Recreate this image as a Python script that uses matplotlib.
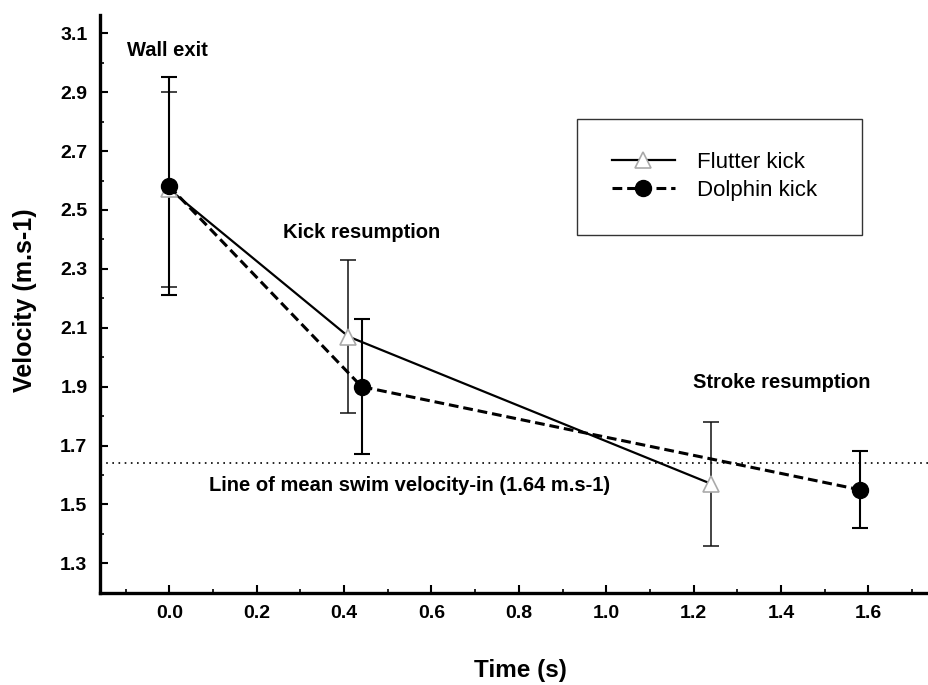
import matplotlib.pyplot as plt
from matplotlib.patches import Rectangle
from matplotlib.ticker import MultipleLocator

plt.rcParams['font.family'] = ['Liberation Sans', 'DejaVu Sans']

# mean velocity (m/s) and SD at wall exit, kick resumption, stroke resumption
flutter_time = [0.0, 0.41, 1.24]
flutter_vel = [2.57, 2.07, 1.57]
flutter_sd = [0.33, 0.26, 0.21]

dolphin_time = [0.0, 0.44, 1.58]
dolphin_vel = [2.58, 1.90, 1.55]
dolphin_sd = [0.37, 0.23, 0.13]

mean_swim_vel = 1.64

x_ticks = [0.0, 0.2, 0.4, 0.6, 0.8, 1.0, 1.2, 1.4, 1.6]
x_tick_labels = ['0.0', '0.2', '0.4', '0.6', '0.8', '1.0', '1.2', '1.4', '1.6']
y_ticks = [1.3, 1.5, 1.7, 1.9, 2.1, 2.3, 2.5, 2.7, 2.9, 3.1]
y_tick_labels = ['1.3', '1.5', '1.7', '1.9', '2.1', '2.3', '2.5', '2.7', '2.9', '3.1']

fig = plt.figure(figsize=(9.29, 6.85), dpi=100)
ax = fig.add_axes([0.1076, 0.1347, 0.8924, 0.8433])

# flutter kick
ax.errorbar(flutter_time, flutter_vel, yerr=flutter_sd, fmt='none', ecolor='#111111',
            elinewidth=1.1, capsize=6, capthick=1.1, zorder=2)
ax.plot(flutter_time, flutter_vel, '-', color='black', lw=1.6, marker='^', ms=11,
        mfc='white', mec='#aaaaaa', mew=1.2, zorder=3, label='Flutter kick')

# dolphin kick
ax.errorbar(dolphin_time, dolphin_vel, yerr=dolphin_sd, fmt='none', ecolor='black',
            elinewidth=1.5, capsize=6, capthick=1.5, zorder=2)
ax.plot(dolphin_time, dolphin_vel, '--', dashes=(3.2, 1.6), color='black', lw=2.2,
        marker='o', ms=11.5, mfc='black', mec='black', zorder=4, label='Dolphin kick')

ax.axhline(mean_swim_vel, color='black', lw=1.2, linestyle=(0, (1, 2.7)), zorder=1)

ax.set_xlim(-0.159, 1.739)
ax.set_ylim(1.2, 3.162)
ax.set_xticks(x_ticks, x_tick_labels, fontsize=14, fontweight='bold')
ax.set_yticks(y_ticks, y_tick_labels, fontsize=14, fontweight='bold')
ax.xaxis.set_minor_locator(MultipleLocator(0.1))
ax.yaxis.set_minor_locator(MultipleLocator(0.1))
ax.tick_params(which='major', direction='in', length=6, width=1.5, pad=9)
ax.tick_params(which='minor', direction='in', length=3, width=1.2)

for side in ['top', 'right']:
    ax.spines[side].set_visible(False)
for side in ['left', 'bottom']:
    ax.spines[side].set_linewidth(2.4)

bold = dict(fontsize=14.5, fontweight='bold', ha='left', va='center')
ax.text(-0.098, 3.043, 'Wall exit', **bold)
ax.text(0.26, 2.425, 'Kick resumption', **bold)
ax.text(1.199, 1.915, 'Stroke resumption', **bold)
ax.text(0.0916, 1.564, 'Line of mean swim velocity-in (1.64 m.s-1)', **bold)

fig.text(520 / 929, 1 - 670 / 685, 'Time (s)', fontsize=17.5, fontweight='bold',
         ha='center', va='center')
fig.text(25 / 929, 1 - 300 / 685, 'Velocity (m.s-1)', fontsize=18, fontweight='bold',
         ha='center', va='center', rotation=90)

# legend box drawn separately so the padding can be wider than tall
ax.add_patch(Rectangle((0.5758, 0.6192), 0.343, 0.2008, transform=ax.transAxes,
                       fill=False, edgecolor='#333333', lw=1.0, zorder=5))
ax.legend(loc='center left', bbox_to_anchor=(0.6173, 0.7204), frameon=False,
          fontsize=16, handlelength=2.84, handletextpad=1.0, labelspacing=0.33,
          borderpad=0, borderaxespad=0, numpoints=1)

fig.savefig('out.png', dpi=100)
